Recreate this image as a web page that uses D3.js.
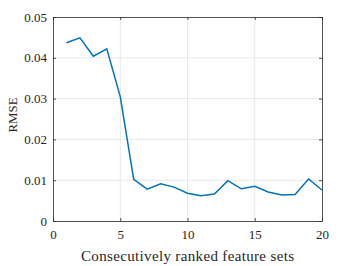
<!DOCTYPE html>
<html>
<head>
<meta charset="utf-8">
<script src="https://cdn.jsdelivr.net/npm/d3@7"></script>
<style>
  body { margin: 0; background: #fff; }
  svg text { font-family: "Liberation Serif", "DejaVu Serif", serif; fill: #262626; }
</style>
</head>
<body>
<div id="chart"></div>
<script>
// feature set rank and its RMSE
var featureSets = d3.range(1, 21)
var rmse = [0.0437, 0.0449, 0.0404, 0.0422, 0.0305, 0.0102, 0.0078, 0.0091, 0.0083, 0.0068,
            0.0062, 0.0066, 0.0099, 0.0079, 0.0085, 0.0071, 0.0064, 0.0065, 0.0103, 0.0076]
var xTicks = [0, 5, 10, 15, 20]
var yTicks = [0, 0.01, 0.02, 0.03, 0.04, 0.05]

var W = 339, H = 266
var margin = {left: 53, right: 17, top: 17, bottom: 45}

var svg = d3.select("#chart").append("svg").attr("width", W).attr("height", H)

var x = d3.scaleLinear().domain([0, 20]).range([margin.left, W - margin.right])
var y = d3.scaleLinear().domain([0, 0.05]).range([H - margin.bottom, margin.top])

// grid
svg.append("g").selectAll("line").data(xTicks.slice(1, -1)).join("line")
    .attr("x1", d => x(d)).attr("x2", d => x(d))
    .attr("y1", y(0)).attr("y2", y(0.05))
    .attr("stroke", "#e8e8e8").attr("stroke-width", 1)
svg.append("g").selectAll("line").data(yTicks.slice(1, -1)).join("line")
    .attr("x1", x(0)).attr("x2", x(20))
    .attr("y1", d => y(d)).attr("y2", d => y(d))
    .attr("stroke", "#e8e8e8").attr("stroke-width", 1)

// axes (ticks inward, box on)
var xAxis = svg.append("g").attr("transform", `translate(0,${y(0)})`)
    .call(d3.axisBottom(x).tickValues(xTicks).tickFormat(d3.format("d")).tickSizeInner(-3).tickSizeOuter(0).tickPadding(9))
var yAxis = svg.append("g").attr("transform", `translate(${x(0)},0)`)
    .call(d3.axisLeft(y).tickValues(yTicks).tickFormat(d => d === 0 ? "0" : d3.format(".2f")(d)).tickSizeInner(-3).tickSizeOuter(0).tickPadding(6))
svg.append("g").attr("transform", `translate(0,${y(0.05)})`)
    .call(d3.axisTop(x).tickValues(xTicks).tickFormat("").tickSizeInner(-3).tickSizeOuter(0))
svg.append("g").attr("transform", `translate(${x(20)},0)`)
    .call(d3.axisRight(y).tickValues(yTicks).tickFormat("").tickSizeInner(-3).tickSizeOuter(0))

svg.selectAll(".domain").attr("stroke", "#262626").attr("stroke-width", 0.8)
svg.selectAll(".tick line").attr("stroke", "#262626").attr("stroke-width", 0.8)
svg.selectAll(".tick text").attr("font-size", 13).attr("font-family", "Liberation Serif")

var line = d3.line().x((d, i) => x(featureSets[i])).y(d => y(d))
svg.append("path").datum(rmse).attr("d", line)
    .attr("fill", "none").attr("stroke", "#0072BD").attr("stroke-width", 1.5)

svg.append("text").attr("x", 187.5).attr("y", 261)
    .attr("text-anchor", "middle").attr("font-size", 15)
    .attr("textLength", 213).attr("lengthAdjust", "spacing")
    .text("Consecutively ranked feature sets")
svg.append("text").attr("transform", "translate(17,115) rotate(-90)")
    .attr("text-anchor", "middle").attr("font-size", 13.5)
    .attr("textLength", 35).attr("lengthAdjust", "spacingAndGlyphs")
    .text("RMSE")
</script>
</body>
</html>
